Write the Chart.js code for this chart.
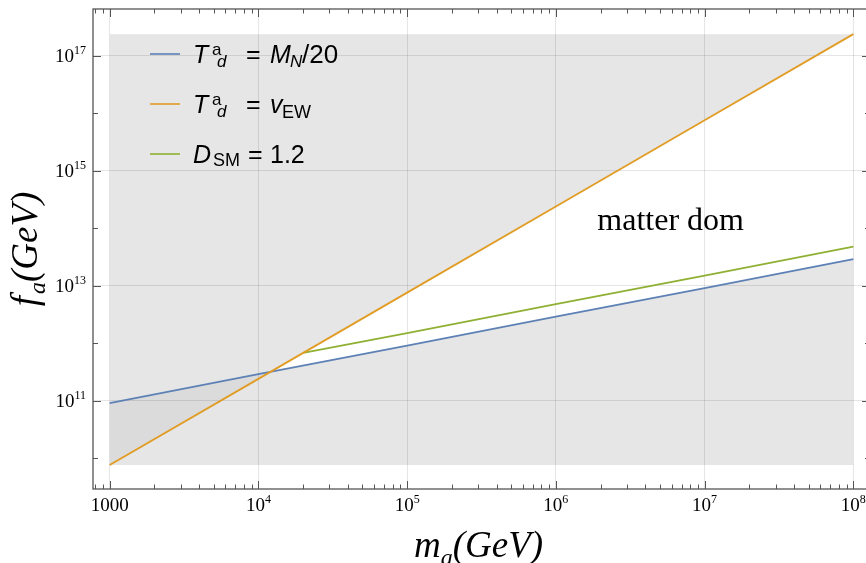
<!DOCTYPE html>
<html>
<head>
<meta charset="utf-8">
<script src="https://cdn.jsdelivr.net/npm/chart.js@4.4.0/dist/chart.umd.min.js"></script>
<style>
  html, body { margin: 0; padding: 0; background: #fff; overflow: hidden; }
  #wrap { width: 870px; height: 563px; }
</style>
</head>
<body>
<div id="wrap"><canvas id="myChart"></canvas></div>
<script>
// m_a (GeV)
var massX = [1e3, 1e4, 1e5, 1e6, 1e7, 1e8];
var blueY = [9.1e10, 2.9e11, 9.1e11, 2.9e12, 9.1e12, 2.9e13];     // T^a_d = M_N/20
var orangeY = [7.6e9, 2.4e11, 7.6e12, 2.4e14, 7.6e15, 2.4e17];    // T^a_d = v_EW
var greenX = [2e4, 1e5, 1e6, 1e7, 1e8];
var greenY = [6.8e11, 1.5e12, 4.8e12, 1.5e13, 4.8e13];            // D_SM = 1.2
// shaded box behind the curves
var boxX = [1e3, 1e8];
var boxY = [7.6e9, 2.4e17];

// ticks
var xMajor = [1e3, 1e4, 1e5, 1e6, 1e7, 1e8];
var xMajorLabels = [["1000", ""], ["10", "4"], ["10", "5"], ["10", "6"], ["10", "7"], ["10", "8"]];
var xMinorSteps = [2, 3, 4, 5, 6, 7, 8, 9];
var yMajor = [1e11, 1e13, 1e15, 1e17];
var yMajorLabels = [["10", "11"], ["10", "13"], ["10", "15"], ["10", "17"]];
var yMinor = [1e10, 1e12, 1e14, 1e16];

var annText = "matter dom";
var annX = 1.9e6, annY = 9.3e13;

var BLUE = "#5e81b5", ORANGE = "#e19c24", GREEN = "#8fb032";
var SERIF = "'Liberation Serif', 'Times New Roman', serif";
var SANS = "'Liberation Sans', Arial, sans-serif";

function pts(xs, ys) {
    return xs.map(function(x, i) { return {x: x, y: ys[i]}; });
}

// draw a list of text pieces, each at its own offset from x0
function drawParts(c, x0, y, parts) {
    parts.forEach(function(p) {
        c.font = p.f;
        c.fillText(p.t, x0 + p.x, y + (p.dy || 0));
    });
}

// pieces placed one after another, returns total width
function flowParts(c, x0, y, parts, measureOnly) {
    var x = x0;
    parts.forEach(function(p) {
        c.font = p.f;
        if (!measureOnly) c.fillText(p.t, x, y + (p.dy || 0));
        x += c.measureText(p.t).width + (p.gap || 0);
    });
    return x - x0;
}

var legendItems = [
    {color: BLUE, parts: [
        {t: "T", f: "italic 25px " + SANS, x: 0},
        {t: "a", f: "17px " + SANS, x: 19, dy: -8},
        {t: "d", f: "italic 17px " + SANS, x: 24, dy: 4},
        {t: "=", f: "25px " + SANS, x: 53},
        {t: "M", f: "italic 25px " + SANS, x: 77},
        {t: "N", f: "italic 17px " + SANS, x: 97, dy: 4},
        {t: "/20", f: "26px " + SANS, x: 109}
    ]},
    {color: ORANGE, parts: [
        {t: "T", f: "italic 25px " + SANS, x: 0},
        {t: "a", f: "17px " + SANS, x: 19, dy: -8},
        {t: "d", f: "italic 17px " + SANS, x: 24, dy: 4},
        {t: "=", f: "25px " + SANS, x: 53},
        {t: "v", f: "italic 25px " + SANS, x: 77},
        {t: "EW", f: "18px " + SANS, x: 89, dy: 5}
    ]},
    {color: GREEN, parts: [
        {t: "D", f: "italic 25px " + SANS, x: 0},
        {t: "SM", f: "18px " + SANS, x: 20, dy: 3},
        {t: "=", f: "25px " + SANS, x: 55},
        {t: "1.2", f: "25px " + SANS, x: 77}
    ]}
];

var decorPlugin = {
    id: "decor",
    afterDraw: function(chart) {
        var c = chart.ctx;
        var a = chart.chartArea;
        var xs = chart.scales.x, ys = chart.scales.y;
        c.save();

        // frame
        c.strokeStyle = "#555";
        c.lineWidth = 1.3;
        c.strokeRect(a.left, a.top, a.right - a.left, a.bottom - a.top);

        // ticks on all four sides, pointing inward
        c.lineWidth = 1;
        function xTick(v, len) {
            var px = Math.round(xs.getPixelForValue(v)) + 0.5;
            c.beginPath();
            c.moveTo(px, a.bottom); c.lineTo(px, a.bottom - len);
            c.moveTo(px, a.top); c.lineTo(px, a.top + len);
            c.stroke();
        }
        function yTick(v, len) {
            var py = Math.round(ys.getPixelForValue(v)) + 0.5;
            c.beginPath();
            c.moveTo(a.left, py); c.lineTo(a.left + len, py);
            c.moveTo(a.right, py); c.lineTo(a.right - len, py);
            c.stroke();
        }
        xMajor.forEach(function(v) { xTick(v, 8); });
        [100].concat(xMajor).forEach(function(d) {
            xMinorSteps.forEach(function(s) {
                var v = s * d;
                if (v > xs.min && v < xs.max) xTick(v, 4.5);
            });
        });
        yMajor.forEach(function(v) { yTick(v, 8); });
        yMinor.forEach(function(v) { yTick(v, 5); });

        // tick labels
        c.fillStyle = "#000";
        c.textBaseline = "alphabetic";
        c.textAlign = "left";
        xMajor.forEach(function(v, i) {
            var lab = xMajorLabels[i];
            var parts = [{t: lab[0], f: "19px " + SERIF}, {t: lab[1], f: "12px " + SERIF, dy: -8}];
            var w = flowParts(c, 0, 0, parts, true);
            flowParts(c, xs.getPixelForValue(v) - w / 2, a.bottom + 22, parts);
        });
        yMajor.forEach(function(v, i) {
            var lab = yMajorLabels[i];
            var parts = [{t: lab[0], f: "19px " + SERIF}, {t: lab[1], f: "12px " + SERIF, dy: -8}];
            var w = flowParts(c, 0, 0, parts, true);
            flowParts(c, a.left - 7 - w, ys.getPixelForValue(v) + 6.5, parts);
        });

        // axis titles
        var xt = [
            {t: "m", f: "italic 37px " + SERIF},
            {t: "a", f: "italic 24px " + SERIF, dy: 8},
            {t: "(GeV)", f: "italic 37px " + SERIF}
        ];
        var wx = flowParts(c, 0, 0, xt, true);
        flowParts(c, (a.left + a.right) / 2 - wx / 2 - 3, 557, xt);

        var yt = [
            {t: "f", f: "italic 37px " + SERIF, gap: 2},
            {t: "a", f: "italic 24px " + SERIF, dy: 8},
            {t: "(GeV)", f: "italic 37px " + SERIF}
        ];
        var wy = flowParts(c, 0, 0, yt, true);
        c.save();
        c.translate(37, (a.top + a.bottom) / 2);
        c.rotate(-Math.PI / 2);
        flowParts(c, -wy / 2, 0, yt);
        c.restore();

        // legend
        legendItems.forEach(function(item, i) {
            var base = a.top + 54 + i * 50;
            c.strokeStyle = item.color;
            c.lineWidth = 1.6;
            c.beginPath();
            c.moveTo(a.left + 57, base - 9);
            c.lineTo(a.left + 87, base - 9);
            c.stroke();
            drawParts(c, a.left + 100, base, item.parts);
        });

        // region label
        c.font = "32px " + SERIF;
        c.fillText(annText, xs.getPixelForValue(annX), ys.getPixelForValue(annY));

        c.restore();
    }
};

var ctx = document.getElementById("myChart");

// dataset 0 fills against dataset 1 (a fill target of index 0 is ignored by the filler)
var data = {
    datasets: [
        {
            label: "T_d = v_EW",
            data: pts(massX, orangeY),
            showLine: true,
            borderColor: ORANGE,
            borderWidth: 1.8,
            pointRadius: 0,
            fill: {target: 1, above: "#ffffff", below: "#dbdbdb"}
        },
        {
            label: "T_d = M_N/20",
            data: pts(massX, blueY),
            showLine: true,
            borderColor: BLUE,
            borderWidth: 1.8,
            pointRadius: 0,
            fill: false
        },
        {
            label: "D_SM = 1.2",
            data: pts(greenX, greenY),
            showLine: true,
            borderColor: GREEN,
            borderWidth: 1.8,
            pointRadius: 0,
            fill: false
        },
        {
            label: "box",
            data: pts(boxX, [boxY[1], boxY[1]]),
            showLine: true,
            borderWidth: 0,
            borderColor: "rgba(0,0,0,0)",
            backgroundColor: "#e6e6e6",
            pointRadius: 0,
            fill: {value: boxY[0]}
        }
    ]
};

var options = {
    responsive: true,
    maintainAspectRatio: false,
    animation: false,
    layout: {padding: {left: 93, top: 9, right: 0, bottom: 74}},
    plugins: {
        legend: {display: false},
        tooltip: {enabled: false},
        filler: {drawTime: "beforeDraw"}
    },
    scales: {
        x: {
            type: "logarithmic",
            min: Math.pow(10, 2.888),
            max: Math.pow(10, 8.112),
            afterBuildTicks: function(s) { s.ticks = xMajor.map(function(v) { return {value: v}; }); },
            afterFit: function(s) { s.height = 0; },
            ticks: {display: false},
            border: {display: false},
            grid: {color: "rgba(0,0,0,0.1)", lineWidth: 1, drawTicks: false}
        },
        y: {
            type: "logarithmic",
            min: Math.pow(10, 9.463),
            max: Math.pow(10, 17.818),
            afterBuildTicks: function(s) { s.ticks = yMajor.map(function(v) { return {value: v}; }); },
            afterFit: function(s) { s.width = 0; },
            ticks: {display: false},
            border: {display: false},
            grid: {color: "rgba(0,0,0,0.1)", lineWidth: 1, drawTicks: false}
        }
    }
};

var chart = new Chart(ctx, {
    type: "scatter",
    data: data,
    options: options,
    plugins: [decorPlugin]
});
</script>
</body>
</html>
